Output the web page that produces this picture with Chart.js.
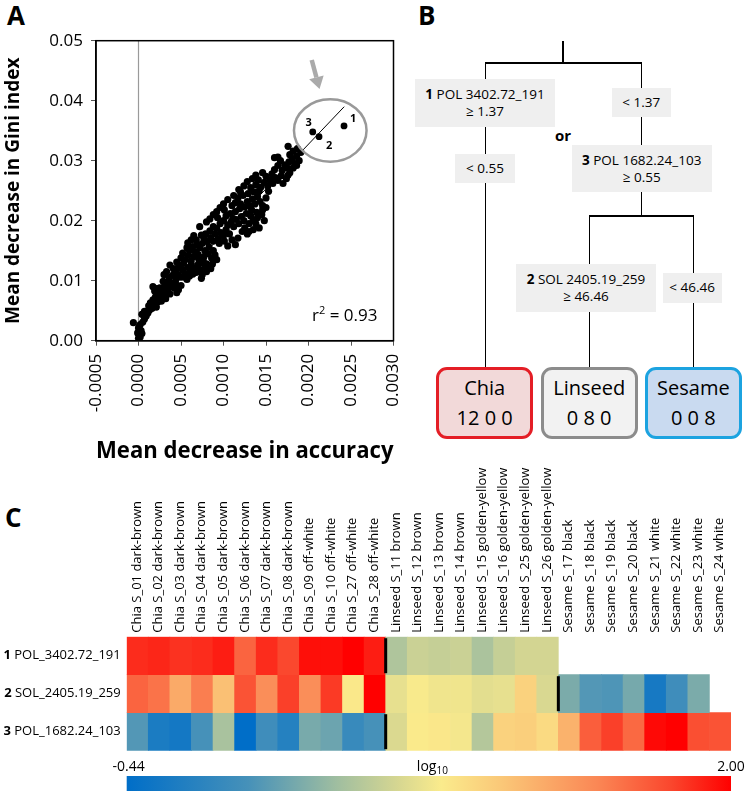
<!DOCTYPE html>
<html>
<head>
<meta charset="utf-8">
<script src="https://cdn.jsdelivr.net/npm/chart.js@4.4.1/dist/chart.umd.min.js"></script>
<style>
  body { margin: 0; background: #fff; font-family: "Open Sans", sans-serif; color: #000; }
  #page { position: relative; width: 745px; height: 791px; overflow: hidden; }
  .panel { position: absolute; font-weight: bold; font-size: 26px; line-height: 1; }
  canvas { position: absolute; }
  .ln { position: absolute; background: #000; }
  .box { position: absolute; background: #efefef; font-size: 13.5px; line-height: 17px; text-align: center;
         display: flex; flex-direction: column; justify-content: center; white-space: nowrap; }
  .leaf { position: absolute; box-sizing: border-box; border: 3px solid; border-radius: 11px; font-size: 20px;
          line-height: 30px; text-align: center; display: flex; flex-direction: column; justify-content: center; }
</style>
</head>
<body>
<div id="page">
  <div class="panel" style="left:7px;top:2px">A</div>
  <div class="panel" style="left:418px;top:2px">B</div>
  <div class="panel" style="left:5px;top:504px">C</div>

  <canvas id="scatterA" width="410" height="470" style="left:0;top:0"></canvas>

  <!-- B: classification tree -->
  <div class="ln" style="left:562px;top:41px;width:1.6px;height:22px"></div>
  <div class="ln" style="left:484.5px;top:62px;width:157.6px;height:1.6px"></div>
  <div class="ln" style="left:484.5px;top:62px;width:1.6px;height:305px"></div>
  <div class="ln" style="left:640.5px;top:62px;width:1.6px;height:154px"></div>
  <div class="ln" style="left:588.5px;top:215px;width:105.6px;height:1.6px"></div>
  <div class="ln" style="left:588.5px;top:215px;width:1.6px;height:152px"></div>
  <div class="ln" style="left:692.5px;top:215px;width:1.6px;height:152px"></div>

  <div class="box" style="left:415px;top:79px;width:140px;height:48px"><div><b>1</b> POL 3402.72_191</div><div>≥ 1.37</div></div>
  <div class="box" style="left:455px;top:154px;width:60px;height:29px">&lt; 0.55</div>
  <div class="box" style="left:611.7px;top:88.3px;width:59.3px;height:29px">&lt; 1.37</div>
  <div style="position:absolute;left:548px;top:125px;width:30px;text-align:center;font-weight:bold;font-size:15px;line-height:20px">or</div>
  <div class="box" style="left:571.7px;top:145px;width:140px;height:47.3px"><div><b>3</b> POL 1682.24_103</div><div>≥ 0.55</div></div>
  <div class="box" style="left:516px;top:264px;width:140px;height:47.7px"><div><b>2</b> SOL 2405.19_259</div><div>≥ 46.46</div></div>
  <div class="box" style="left:662.7px;top:273.3px;width:59px;height:29.4px">&lt; 46.46</div>

  <div class="leaf" style="left:436px;top:366.7px;width:97.3px;height:72.7px;border-color:#e41e26;background:#f2d9d9"><div>Chia</div><div>12 0 0</div></div>
  <div class="leaf" style="left:540.7px;top:366.7px;width:97px;height:72.7px;border-color:#8c8c8c;background:#f2f2f2"><div>Linseed</div><div>0 8 0</div></div>
  <div class="leaf" style="left:645px;top:366.7px;width:96.7px;height:72.7px;border-color:#1ca3e0;background:#c9daf0"><div>Sesame</div><div>0 0 8</div></div>

  <canvas id="heatC" width="745" height="351" style="left:0;top:440px"></canvas>
</div>

<script>
// ---- Panel A data: mean decrease in accuracy (x) vs mean decrease in Gini index (y)
const cloudPoints = [
  [0.00000,0.0004],[0.00001,0.0009],[-0.00001,0.0013],[0.00002,0.0006],[0.00003,0.0017],[0.00000,0.0021],
  [-0.00006,0.0030],[0.00002,0.0027],[0.00005,0.0031],[0.00007,0.0036],[0.00004,0.0012],[0.00001,0.0024],
  [0.00009,0.0041],[0.00004,0.0044],
  [0.00011,0.0046],[0.00013,0.0051],[0.00007,0.0049],[0.00016,0.0054],[0.00012,0.0058],[0.00018,0.0061],
  [0.00014,0.0063],[0.00021,0.0056],[0.00023,0.0065],[0.00017,0.0068],[0.00025,0.0071],[0.00020,0.0073],
  [0.00027,0.0066],
  [0.00017,0.0090],[0.00022,0.0077],[0.00026,0.0080],[0.00030,0.0073],[0.00028,0.0086],[0.00033,0.0081],
  [0.00025,0.0088],[0.00035,0.0087],[0.00031,0.0093],[0.00038,0.0091],[0.00034,0.0098],[0.00040,0.0096],
  [0.00029,0.0099],[0.00042,0.0088],[0.00037,0.0078],[0.00032,0.0070],[0.00044,0.0094],
  [0.00019,0.0083],[0.00047,0.0085],[0.00045,0.0080],[0.00050,0.0092],[0.00021,0.0087],
  [0.00036,0.0105],[0.00040,0.0109],[0.00044,0.0102],[0.00047,0.0110],[0.00043,0.0116],[0.00050,0.0106],
  [0.00037,0.0126],[0.00046,0.0121],[0.00052,0.0118],[0.00055,0.0112],[0.00049,0.0125],[0.00058,0.0122],
  [0.00053,0.0129],[0.00061,0.0116],[0.00060,0.0108],[0.00057,0.0102],[0.00064,0.0111],[0.00066,0.0121],
  [0.00070,0.0126],[0.00068,0.0114],[0.00045,0.0131],[0.00062,0.0127],[0.00072,0.0118],[0.00054,0.0106],
  [0.00041,0.0120],[0.00030,0.0110],[0.00033,0.0115],[0.00075,0.0110],[0.00080,0.0115],[0.00085,0.0120],
  [0.00078,0.0122],[0.00074,0.0104],
  [0.00050,0.0138],[0.00055,0.0135],[0.00052,0.0146],[0.00058,0.0142],[0.00062,0.0133],[0.00065,0.0140],
  [0.00060,0.0150],[0.00067,0.0148],[0.00071,0.0135],[0.00074,0.0130],[0.00077,0.0140],[0.00072,0.0155],
  [0.00064,0.0157],[0.00078,0.0150],[0.00082,0.0145],[0.00086,0.0138],[0.00080,0.0128],[0.00069,0.0160],
  [0.00075,0.0162],[0.00083,0.0156],[0.00057,0.0155],[0.00070,0.0144],[0.00088,0.0150],[0.00076,0.0134],
  [0.00090,0.0143],[0.00092,0.0135],[0.00087,0.0128],
  [0.00068,0.0168],[0.00072,0.0190],[0.00077,0.0170],[0.00081,0.0165],[0.00085,0.0172],[0.00079,0.0178],
  [0.00088,0.0166],[0.00090,0.0178],[0.00084,0.0183],[0.00094,0.0170],[0.00097,0.0180],[0.00092,0.0187],
  [0.00100,0.0175],[0.00103,0.0185],[0.00088,0.0190],[0.00107,0.0178],[0.00117,0.0171],[0.00095,0.0162],
  [0.00074,0.0176],[0.00101,0.0166],[0.00058,0.0163],[0.00062,0.0168],[0.00065,0.0175],[0.00110,0.0168],
  [0.00114,0.0160],[0.00105,0.0158],
  [0.00096,0.0195],[0.00100,0.0200],[0.00105,0.0193],[0.00093,0.0205],[0.00109,0.0198],[0.00103,0.0208],
  [0.00112,0.0190],[0.00115,0.0202],[0.00108,0.0212],[0.00118,0.0195],[0.00121,0.0207],[0.00114,0.0215],
  [0.00124,0.0200],[0.00127,0.0212],[0.00101,0.0218],[0.00119,0.0220],[0.00130,0.0195],[0.00132,0.0208],
  [0.00111,0.0204],[0.00125,0.0188],
  [0.00140,0.0205],[0.00145,0.0210],[0.00148,0.0200],[0.00138,0.0195],[0.00142,0.0188],[0.00135,0.0185],
  [0.00130,0.0182],[0.00146,0.0218],[0.00139,0.0214],[0.00150,0.0222],[0.00128,0.0178],[0.00122,0.0182],
  [0.00135,0.0200],
  [0.00080,0.0198],[0.00084,0.0203],[0.00088,0.0210],[0.00092,0.0215],[0.00096,0.0222],[0.00100,0.0228],
  [0.00105,0.0235],[0.00112,0.0242],
  [0.00110,0.0225],[0.00114,0.0230],[0.00120,0.0228],[0.00125,0.0223],[0.00128,0.0232],[0.00117,0.0238],
  [0.00123,0.0242],[0.00131,0.0225],[0.00134,0.0236],[0.00137,0.0228],[0.00129,0.0245],[0.00140,0.0240],
  [0.00143,0.0232],[0.00120,0.0248],[0.00136,0.0248],[0.00146,0.0225],[0.00150,0.0238],[0.00142,0.0250],
  [0.00133,0.0218],
  [0.00132,0.0255],[0.00138,0.0260],[0.00144,0.0256],[0.00148,0.0264],[0.00141,0.0268],[0.00152,0.0258],
  [0.00155,0.0268],[0.00150,0.0274],[0.00158,0.0262],[0.00161,0.0272],[0.00157,0.0278],[0.00164,0.0267],
  [0.00146,0.0280],[0.00168,0.0275],[0.00170,0.0262],[0.00153,0.0249],
  [0.00118,0.0252],[0.00124,0.0258],[0.00128,0.0265],[0.00134,0.0270],[0.00138,0.0276],
  [0.00174,0.0270],[0.00178,0.0280],[0.00182,0.0288],[0.00176,0.0276],[0.00186,0.0292],
  [0.00160,0.0285],[0.00164,0.0292],[0.00169,0.0284],[0.00172,0.0293],[0.00175,0.0288],[0.00167,0.0300],
  [0.00160,0.0305],[0.00164,0.0306],[0.00177,0.0298],[0.00181,0.0303],[0.00178,0.0310],[0.00184,0.0295],
  [0.00186,0.0308],[0.00189,0.0300],[0.00182,0.0316],[0.00176,0.0324],[0.00191,0.0314],[0.00187,0.0320]
];
const topFeatures = [[0.002418,0.0358],[0.002124,0.0340],[0.00205,0.0348]];
const topFeatureIds = ['1','2','3'];
const topLabelOffsets = [[9,-7],[10,9],[-4,-9]]; // label nudges in px
const trendLine = [[0,0.0030],[0.00242,0.0390]];
const circleCenter = [0.002256,0.03503];
const circleRadii = [0.000427,0.0052];
const arrowFrom = [0.002038,0.04678];
const arrowTo = [0.00213,0.04195];
const xTicks = { min: -0.0005, max: 0.003, step: 0.0005 };
const yTicks = { min: 0, max: 0.05, step: 0.01 };

// ---- Panel C data: log10 intensities, rows = features, columns = samples
const sampleNames = [
  'Chia S_01 dark-brown','Chia S_02 dark-brown','Chia S_03 dark-brown','Chia S_04 dark-brown',
  'Chia S_05 dark-brown','Chia S_06 dark-brown','Chia S_07 dark-brown','Chia S_08 dark-brown',
  'Chia S_09 off-white','Chia S_10 off-white','Chia S_27 off-white','Chia S_28 off-white',
  'Linseed S_11 brown','Linseed S_12 brown','Linseed S_13 brown','Linseed S_14 brown',
  'Linseed S_15 golden-yellow','Linseed S_16 golden-yellow','Linseed S_25 golden-yellow','Linseed S_26 golden-yellow',
  'Sesame S_17 black','Sesame S_18 black','Sesame S_19 black','Sesame S_20 black',
  'Sesame S_21 white','Sesame S_22 white','Sesame S_23 white','Sesame S_24 white'
];
const rowIds = ['1','2','3'];
const rowNames = ['POL_3402.72_191','SOL_2405.19_259','POL_1682.24_103'];
const row1Values = [1.85,1.87,1.83,1.85,1.90,1.62,1.85,1.75,1.95,1.95,2.00,1.90,
                    0.48,0.60,0.58,0.60,0.46,0.58,0.64,0.64,
                    null,null,null,null,null,null,null,null];
const row2Values = [1.62,1.55,1.25,1.50,1.12,1.70,1.42,1.78,1.42,1.80,0.85,2.00,
                    0.74,0.82,0.78,0.78,0.72,0.74,1.00,0.67,
                    0.26,0.10,0.08,0.24,-0.28,0.00,0.26,null];
const row3Values = [0.10,-0.25,-0.30,0.05,0.45,-0.44,0.00,-0.18,0.25,0.20,-0.05,0.05,
                    0.68,0.84,0.86,0.80,0.50,1.00,1.02,0.95,
                    1.20,1.65,1.78,1.60,1.97,2.00,1.72,1.70];
const groupBreaks = [12, 20, 12]; // column after which the black bar sits, per row
const scaleStops = [-0.44, 0.05, 0.41, 0.66, 0.83, 1.07, 1.46, 1.76, 2.00];
const scaleColors = [[0,110,200],[70,145,185],[160,190,160],[215,215,145],[250,235,140],
                     [250,200,120],[250,135,85],[250,70,45],[255,0,0]];

const FONT = '"Open Sans", sans-serif';
Chart.defaults.font.family = FONT;
Chart.defaults.color = '#000';
Chart.defaults.animation = false;

const fmt = (v, d) => (Math.abs(v) < 1e-12 ? 0 : v).toFixed(d);

function heatColor(v) {
  const n = scaleStops.length;
  if (v <= scaleStops[0]) return `rgb(${scaleColors[0].join(',')})`;
  for (let i = 1; i < n; i++) {
    if (v <= scaleStops[i]) {
      const t = (v - scaleStops[i - 1]) / (scaleStops[i] - scaleStops[i - 1]);
      const c = scaleColors[i - 1].map((a, k) => Math.round(a + (scaleColors[i][k] - a) * t));
      return `rgb(${c.join(',')})`;
    }
  }
  return `rgb(${scaleColors[n - 1].join(',')})`;
}

// ---- Panel A
const scatterDecor = {
  id: 'scatterDecor',
  beforeDatasetsDraw(chart) {
    const { ctx, chartArea: a, scales: { x } } = chart;
    const zx = x.getPixelForValue(0);
    ctx.save();
    ctx.strokeStyle = '#9a9a9a';
    ctx.lineWidth = 1.2;
    ctx.beginPath();
    ctx.moveTo(zx, a.top);
    ctx.lineTo(zx, a.bottom);
    ctx.stroke();
    ctx.restore();
  },
  afterDatasetsDraw(chart) {
    const { ctx, chartArea: a, scales: { x, y } } = chart;
    ctx.save();
    // frame
    ctx.strokeStyle = '#000';
    ctx.lineWidth = 1.5;
    ctx.strokeRect(a.left, a.top, a.right - a.left, a.bottom - a.top);

    // circle round the three best features
    const cx = x.getPixelForValue(circleCenter[0]);
    const cy = y.getPixelForValue(circleCenter[1]);
    const rx = x.getPixelForValue(circleCenter[0] + circleRadii[0]) - cx;
    const ry = cy - y.getPixelForValue(circleCenter[1] + circleRadii[1]);
    ctx.strokeStyle = '#999';
    ctx.lineWidth = 2.5;
    ctx.beginPath();
    ctx.ellipse(cx, cy, rx, ry, 0, 0, Math.PI * 2);
    ctx.stroke();

    // arrow
    const x0 = x.getPixelForValue(arrowFrom[0]), y0 = y.getPixelForValue(arrowFrom[1]);
    const x1 = x.getPixelForValue(arrowTo[0]), y1 = y.getPixelForValue(arrowTo[1]);
    const ang = Math.atan2(y1 - y0, x1 - x0);
    const headL = 12, headW = 7.5;
    const bx = x1 - headL * Math.cos(ang), by = y1 - headL * Math.sin(ang);
    ctx.strokeStyle = '#aaa';
    ctx.fillStyle = '#aaa';
    ctx.lineWidth = 4.5;
    ctx.beginPath();
    ctx.moveTo(x0, y0);
    ctx.lineTo(bx, by);
    ctx.stroke();
    ctx.beginPath();
    ctx.moveTo(x1, y1);
    ctx.lineTo(bx + headW * Math.sin(ang), by - headW * Math.cos(ang));
    ctx.lineTo(bx - headW * Math.sin(ang), by + headW * Math.cos(ang));
    ctx.closePath();
    ctx.fill();

    // feature numbers
    ctx.fillStyle = '#000';
    ctx.font = 'bold 11px ' + FONT;
    ctx.textAlign = 'center';
    ctx.textBaseline = 'middle';
    topFeatures.forEach(([vx, vy], i) => {
      ctx.fillText(topFeatureIds[i], x.getPixelForValue(vx) + topLabelOffsets[i][0],
                   y.getPixelForValue(vy) + topLabelOffsets[i][1]);
    });

    // r squared
    ctx.textAlign = 'left';
    ctx.textBaseline = 'alphabetic';
    ctx.font = '17px ' + FONT;
    const tail = ' = 0.93';
    const wR = ctx.measureText('r').width, wT = ctx.measureText(tail).width;
    ctx.font = '11px ' + FONT;
    const w2 = ctx.measureText('2').width;
    const right = a.right - 16, base = a.bottom - 20;
    let tx = right - wR - w2 - wT;
    ctx.font = '17px ' + FONT;
    ctx.fillText('r', tx, base);
    ctx.font = '11px ' + FONT;
    ctx.fillText('2', tx + wR, base - 7);
    ctx.font = '17px ' + FONT;
    ctx.fillText(tail, tx + wR + w2, base);
    ctx.restore();
  }
};

new Chart(document.getElementById('scatterA'), {
  type: 'scatter',
  data: {
    datasets: [
      {
        data: trendLine.map(([x, y]) => ({ x, y })),
        showLine: true, borderColor: '#000', borderWidth: 1, pointRadius: 0, order: 3
      },
      {
        data: cloudPoints.map(([x, y]) => ({ x, y })),
        backgroundColor: '#000', borderWidth: 0, pointRadius: 3.6, order: 2
      },
      {
        data: topFeatures.map(([x, y]) => ({ x, y })),
        backgroundColor: '#000', borderWidth: 0, pointRadius: 3.4, order: 1
      }
    ]
  },
  options: {
    responsive: false,
    layout: { padding: { top: 40.7, right: 16.5, left: 0, bottom: 0 } },
    plugins: { legend: { display: false }, tooltip: { enabled: false } },
    scales: {
      x: {
        type: 'linear', min: xTicks.min, max: xTicks.max,
        ticks: { stepSize: xTicks.step, minRotation: 90, maxRotation: 90, padding: 8,
                 font: { size: 17 }, color: '#000', callback: v => fmt(v, 4) },
        grid: { drawOnChartArea: false, tickLength: 5, color: '#555' },
        border: { color: '#000', width: 1.5 },
        title: { display: true, text: 'Mean decrease in accuracy', color: '#000',
                 font: { size: 22.5, weight: 'bold' }, padding: { top: 4, bottom: 4.5 } },
        afterFit: s => { s.height = 129.3; s.paddingLeft = 0; s.paddingRight = 0; }
      },
      y: {
        type: 'linear', min: yTicks.min, max: yTicks.max,
        ticks: { stepSize: yTicks.step, padding: 8, font: { size: 17 }, color: '#000',
                 callback: v => fmt(v, 2) },
        grid: { drawOnChartArea: false, tickLength: 5, color: '#555' },
        border: { color: '#000', width: 1.5 },
        title: { display: true, text: 'Mean decrease in Gini index', color: '#000',
                 font: { size: 19, weight: 'bold' }, padding: { top: 2, bottom: 0 } },
        afterFit: s => { s.width = 96; }
      }
    }
  },
  plugins: [scatterDecor]
});

// ---- Panel C
const heatRows = [row1Values, row2Values, row3Values];

const heatDecor = {
  id: 'heatDecor',
  afterDraw(chart) {
    const { ctx, chartArea: a, scales: { x, y } } = chart;
    const colW = x.getPixelForValue(1) - x.getPixelForValue(0);
    ctx.save();

    // group separators
    ctx.fillStyle = '#000';
    groupBreaks.forEach((c, r) => {
      const bx = x.getPixelForValue(c) - colW / 2;
      const top = y.getPixelForValue(r), bot = y.getPixelForValue(r + 1);
      ctx.fillRect(bx - 1.5, top + 1.5, 3, bot - top - 3);
    });

    // row labels: bold id + feature name
    ctx.textBaseline = 'middle';
    ctx.textAlign = 'right';
    rowNames.forEach((name, r) => {
      const cy = (y.getPixelForValue(r) + y.getPixelForValue(r + 1)) / 2;
      const right = a.left - 6;
      ctx.font = '13px ' + FONT;
      const w = ctx.measureText(name).width;
      ctx.fillText(name, right, cy);
      ctx.font = 'bold 13px ' + FONT;
      ctx.fillText(rowIds[r] + ' ', right - w, cy);
    });

    // colour bar
    const barH = 15, barTop = chart.height - barH;
    const lo = scaleStops[0], hi = scaleStops[scaleStops.length - 1];
    const grad = ctx.createLinearGradient(a.left, 0, a.right, 0);
    scaleStops.forEach((v, i) => grad.addColorStop((v - lo) / (hi - lo), `rgb(${scaleColors[i].join(',')})`));
    ctx.fillStyle = grad;
    ctx.fillRect(a.left, barTop, a.right - a.left, barH);

    ctx.fillStyle = '#000';
    ctx.font = '14px ' + FONT;
    ctx.textAlign = 'center';
    ctx.textBaseline = 'middle';
    const ly = barTop - 9;
    ctx.fillText(lo.toFixed(2), a.left + 2, ly);
    ctx.fillText(hi.toFixed(2), a.right, ly);
    const mid = a.left + (a.right - a.left) * 0.5;
    ctx.textAlign = 'left';
    const wl = ctx.measureText('log').width;
    ctx.fillText('log', mid - 12, ly);
    ctx.font = '10px ' + FONT;
    ctx.fillText('10', mid - 12 + wl, ly + 4);
    ctx.restore();
  }
};

new Chart(document.getElementById('heatC'), {
  type: 'bar',
  data: {
    labels: sampleNames,
    datasets: heatRows.map((vals, r) => ({
      label: rowNames[r],
      data: vals.map(v => (v === null ? null : [r, r + 1])),
      backgroundColor: vals.map(v => (v === null ? 'rgba(0,0,0,0)' : heatColor(v))),
      borderWidth: 0,
      barPercentage: 1,
      categoryPercentage: 1,
      grouped: false
    }))
  },
  options: {
    responsive: false,
    layout: { padding: { top: 0, left: 126.7, right: 14, bottom: 40.3 } },
    plugins: { legend: { display: false }, tooltip: { enabled: false } },
    scales: {
      x: {
        position: 'top',
        ticks: { autoSkip: false, minRotation: 90, maxRotation: 90, padding: 4, labelOffset: 15,
                 font: { size: 13 }, color: '#000' },
        grid: { display: false, drawTicks: false },
        border: { display: false },
        afterFit: s => { s.height = 196.7; }
      },
      y: { type: 'linear', min: 0, max: 3, reverse: true, display: false }
    }
  },
  plugins: [heatDecor]
});
</script>
</body>
</html>
